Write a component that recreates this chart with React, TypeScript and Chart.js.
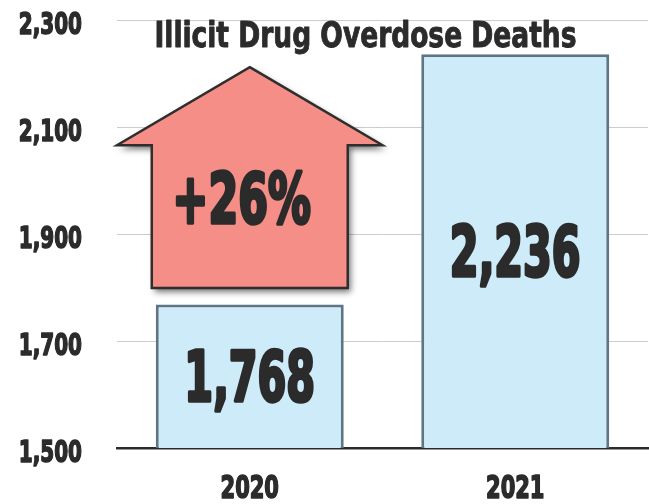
import React, { useEffect, useRef } from "react";
import { Chart, registerables } from "chart.js";

Chart.register(...registerables);

// ---- data ----
const categories: string[] = ["2020", "2021"];
const deaths: number[] = [1768, 2236];
const yTicks: number[] = [1500, 1700, 1900, 2100, 2300];
const chartTitle = "Illicit Drug Overdose Deaths";

// ---- arrow geometry (in axis units) ----
const ARROW_TIP = 2212;
const ARROW_WING = 2066;
const ARROW_BASE = 1799;

// ---- styles ----
const INK = "#2b2b2b";
const BAR_FILL = "#cdebf8";
const BAR_BORDER = "#5f7584";
const ARROW_FILL = "#f58e87";
const GRID = "#cccccc";
const FONT = '"DejaVu Sans Condensed", "DejaVu Sans", sans-serif';
const CAP = 0.729;

function fmt(n: number): string {
  return String(n).replace(/\B(?=(\d{3})+(?!\d))/g, ",");
}

function drawText(
  ctx: CanvasRenderingContext2D,
  text: string,
  x: number,
  baseline: number,
  capH: number,
  sx: number,
  align: CanvasTextAlign,
  fitWidth?: number,
  weight: number = 0.07
) {
  const fs = capH / CAP;
  ctx.save();
  ctx.font = `bold ${fs}px ${FONT}`;
  ctx.fillStyle = INK;
  ctx.strokeStyle = INK;
  ctx.lineJoin = "round";
  ctx.textAlign = align;
  ctx.textBaseline = "alphabetic";
  let s = sx;
  if (fitWidth) {
    const w = ctx.measureText(text).width;
    s = fitWidth / w;
  }
  ctx.translate(x, baseline);
  ctx.scale(s, 1);
  if (weight > 0) {
    ctx.lineWidth = capH * weight;
    ctx.strokeText(text, 0, 0);
  }
  ctx.fillText(text, 0, 0);
  ctx.restore();
}

const overlay = {
  id: "overlay",
  afterDatasetsDraw(chart: any) {
    const ctx: CanvasRenderingContext2D = chart.ctx;
    const area = chart.chartArea;
    const ys = chart.scales.y;
    const xs = chart.scales.x;
    const meta = chart.getDatasetMeta(0);
    const b0 = meta.data[0];

    // y tick labels
    yTicks.forEach((v) => {
      const py = ys.getPixelForValue(v);
      drawText(ctx, fmt(v), area.left - 35, py + 2.5 + 11.5, 22.5, 0.72, "right");
    });

    // x labels
    categories.forEach((c, i) => {
      const px = xs.getPixelForValue(i);
      drawText(ctx, c, px, area.bottom + 50, 23, 0.74, "center");
    });

    // value labels
    deaths.forEach((v, i) => {
      const px = xs.getPixelForValue(i);
      const top = ys.getPixelForValue(v);
      const base = ys.getPixelForValue(yTicks[0]);
      const mid = (top + base) / 2;
      drawText(ctx, fmt(v), px, mid + 25, 50, 0.67, "center");
    });

    // arrow
    const cx = b0.x;
    const catHalf = (area.right - area.left) / categories.length / 2;
    const shaftHalf = b0.width / 2 + 4;
    const tipY = ys.getPixelForValue(ARROW_TIP);
    const wingY = ys.getPixelForValue(ARROW_WING);
    const baseY = ys.getPixelForValue(ARROW_BASE);
    const path = () => {
      ctx.beginPath();
      ctx.moveTo(cx, tipY);
      ctx.lineTo(cx + catHalf, wingY);
      ctx.lineTo(cx + shaftHalf, wingY);
      ctx.lineTo(cx + shaftHalf, baseY);
      ctx.lineTo(cx - shaftHalf, baseY);
      ctx.lineTo(cx - shaftHalf, wingY);
      ctx.lineTo(cx - catHalf, wingY);
      ctx.closePath();
    };
    ctx.save();
    path();
    ctx.shadowColor = "rgba(0,0,0,0.55)";
    ctx.shadowBlur = 6;
    ctx.shadowOffsetX = 3;
    ctx.shadowOffsetY = 4;
    ctx.fillStyle = ARROW_FILL;
    ctx.fill();
    ctx.restore();
    ctx.save();
    path();
    ctx.lineJoin = "miter";
    ctx.lineWidth = 2.5;
    ctx.strokeStyle = "#2e2e2e";
    ctx.stroke();
    ctx.restore();

    const pct = Math.round(((deaths[1] - deaths[0]) / deaths[0]) * 100);
    drawText(ctx, `+${pct}%`, cx - 8, wingY + (baseY - wingY) * 0.545, 51, 0.68, "center");

    // title
    drawText(ctx, chartTitle, (area.left + area.right) / 2 - 17, area.top + 27, 26, 1, "center", 422, 0.035);
  },
};

export default function App() {
  const ref = useRef<HTMLCanvasElement | null>(null);

  useEffect(() => {
    if (!ref.current) return;
    const chart = new Chart(ref.current, {
      type: "bar",
      data: {
        labels: categories,
        datasets: [
          {
            data: deaths,
            backgroundColor: BAR_FILL,
            borderColor: BAR_BORDER,
            borderWidth: 3,
            borderSkipped: false,
            barPercentage: 0.708,
            categoryPercentage: 1,
          },
        ],
      },
      options: {
        animation: false,
        responsive: false,
        maintainAspectRatio: false,
        layout: { padding: { top: 20, right: 1, left: 0, bottom: 0 } },
        plugins: {
          legend: { display: false },
          tooltip: { enabled: false },
          title: { display: false },
        },
        scales: {
          x: {
            grid: { display: true, color: "transparent", drawTicks: false },
            border: { display: true, color: INK, width: 2.5 },
            ticks: { display: false },
            afterFit: (s: any) => {
              s.height = 56;
            },
          },
          y: {
            min: yTicks[0],
            max: yTicks[yTicks.length - 1],
            afterBuildTicks: (s: any) => {
              s.ticks = yTicks.map((v) => ({ value: v }));
            },
            grid: { color: GRID, lineWidth: 1, drawTicks: false },
            border: { display: false },
            ticks: { display: false },
            afterFit: (s: any) => {
              s.width = 117;
            },
          },
        },
      },
      plugins: [overlay],
    });
    return () => chart.destroy();
  }, []);

  return (
    <div style={{ position: "fixed", left: 0, top: 0, width: 649, height: 504, background: "#fff" }}>
      <canvas ref={ref} width={649} height={504} style={{ display: "block" }} />
    </div>
  );
}
